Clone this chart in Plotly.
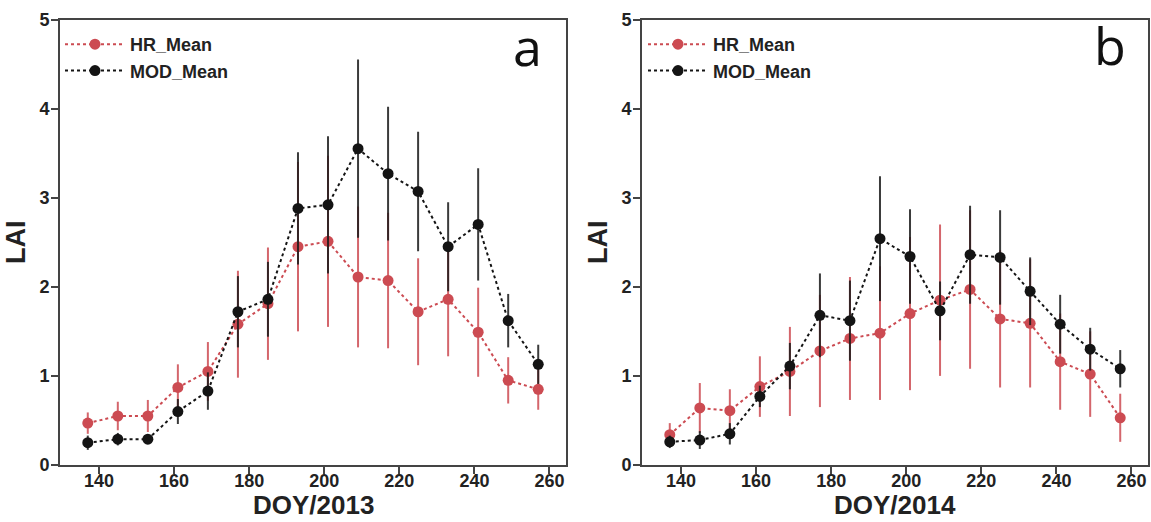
import plotly.graph_objects as go

doy = [137, 145, 153, 161, 169, 177, 185, 193, 201, 209, 217, 225, 233, 241, 249, 257]

hr_2013 = [0.47, 0.55, 0.55, 0.87, 1.05, 1.58, 1.81, 2.45, 2.51, 2.11, 2.07, 1.72, 1.86, 1.49, 0.95, 0.85]
hr_2013_err = [0.12, 0.16, 0.18, 0.26, 0.33, 0.60, 0.63, 0.95, 0.96, 0.79, 0.76, 0.60, 0.64, 0.50, 0.26, 0.23]
mod_2013 = [0.25, 0.29, 0.29, 0.60, 0.83, 1.72, 1.86, 2.88, 2.92, 3.55, 3.27, 3.07, 2.45, 2.70, 1.62, 1.13]
mod_2013_err = [0.08, 0.07, 0.05, 0.14, 0.21, 0.40, 0.42, 0.63, 0.77, 1.00, 0.75, 0.67, 0.50, 0.63, 0.30, 0.22]

hr_2014 = [0.34, 0.64, 0.61, 0.88, 1.05, 1.28, 1.42, 1.48, 1.70, 1.85, 1.97, 1.64, 1.59, 1.16, 1.02, 0.53]
hr_2014_err = [0.13, 0.28, 0.24, 0.34, 0.50, 0.63, 0.69, 0.75, 0.86, 0.85, 0.89, 0.77, 0.72, 0.54, 0.48, 0.27]
mod_2014 = [0.26, 0.28, 0.35, 0.77, 1.11, 1.68, 1.62, 2.54, 2.34, 1.73, 2.36, 2.33, 1.95, 1.58, 1.30, 1.08]
mod_2014_err = [0.07, 0.10, 0.12, 0.12, 0.26, 0.47, 0.45, 0.70, 0.53, 0.33, 0.55, 0.53, 0.38, 0.33, 0.24, 0.21]

x_ticks = [140, 160, 180, 200, 220, 240, 260]
y_ticks = [0, 1, 2, 3, 4, 5]
panel_labels = ["a", "b"]
x_titles = ["DOY/2013", "DOY/2014"]
y_title = "LAI"

RED = "#cc4b52"
BLACK = "#141414"
FONT = "Liberation Sans"
TXT = "#222222"

fig = go.Figure()

panels = [
    (hr_2013, hr_2013_err, mod_2013, mod_2013_err, "x", "y", "legend"),
    (hr_2014, hr_2014_err, mod_2014, mod_2014_err, "x2", "y2", "legend2"),
]
for hr, hre, md, mde, xa, ya, lg in panels:
    fig.add_trace(go.Scatter(
        x=doy, y=hr, name="<b>HR_Mean</b>", mode="lines+markers",
        line=dict(color=RED, width=2, dash="dot"),
        marker=dict(color=RED, size=11),
        error_y=dict(type="data", array=hre, visible=True, color="rgba(204,75,82,0.85)", thickness=2, width=0),
        xaxis=xa, yaxis=ya, legend=lg,
    ))
    fig.add_trace(go.Scatter(
        x=doy, y=md, name="<b>MOD_Mean</b>", mode="lines+markers",
        line=dict(color=BLACK, width=2, dash="dot"),
        marker=dict(color=BLACK, size=11),
        error_y=dict(type="data", array=mde, visible=True, color="rgba(25,25,25,0.85)", thickness=2, width=0),
        xaxis=xa, yaxis=ya, legend=lg,
    ))

axis_common = dict(
    showline=True, linecolor="#444444", linewidth=1.6, mirror=True,
    ticks="outside", ticklen=7, tickwidth=1.5, tickcolor="#444444",
    showgrid=False, zeroline=False, automargin=False,
    tickfont=dict(family=FONT, size=18, color=TXT),
)

x_domains = [[60 / 1151, 566 / 1151], [642 / 1151, 1148 / 1151]]
y_domain = [1 - 465 / 522, 1 - 19.5 / 522]
x_range = [129.6, 264.4]

def xaxis(i):
    return dict(domain=x_domains[i], range=x_range, tickvals=x_ticks,
                ticktext=[f"<b>{v}</b>" for v in x_ticks], anchor="y" if i == 0 else "y2",
                ticklabelstandoff=-8,
                **axis_common)

def yaxis(i):
    return dict(domain=y_domain, range=[0, 5], tickvals=y_ticks,
                ticktext=[f"<b>{v}</b>" for v in y_ticks], anchor="x" if i == 0 else "x2",
                ticklabelstandoff=-2,
                title=dict(text=f"<b>{y_title}</b>", standoff=6,
                           font=dict(family=FONT, size=27, color=TXT)),
                **axis_common)

legend_common = dict(
    xanchor="left", yanchor="top", bgcolor="rgba(0,0,0,0)",
    font=dict(family=FONT, size=18, color=TXT),
    tracegroupgap=0, itemwidth=60,
)

fig.update_layout(
    width=1151, height=522,
    margin=dict(l=0, r=0, t=0, b=0),
    paper_bgcolor="white", plot_bgcolor="white",
    showlegend=True,
    xaxis=xaxis(0), yaxis=yaxis(0),
    xaxis2=xaxis(1), yaxis2=yaxis(1),
    legend=dict(x=60 / 1151, y=1 - 26 / 522, **legend_common),
    legend2=dict(x=643 / 1151, y=1 - 26 / 522, **legend_common),
)

# x-axis titles placed precisely below the tick labels
for i, xr in enumerate(["x", "x2"]):
    fig.add_annotation(text=f"<b>{x_titles[i]}</b>", xref=f"{xr} domain", yref="paper",
                       x=0.5, y=1 - 505 / 522, xanchor="center", yanchor="middle",
                       showarrow=False, font=dict(family=FONT, size=26, color=TXT))

fig.add_annotation(text=panel_labels[0], xref="paper", yref="paper", x=527 / 1151, y=1 - 45 / 522,
                   xanchor="center", yanchor="middle", showarrow=False,
                   font=dict(family="Open Sans", size=52, color="#111111"))
fig.add_annotation(text=panel_labels[1], xref="paper", yref="paper", x=1110 / 1151, y=1 - 44 / 522,
                   xanchor="center", yanchor="middle", showarrow=False,
                   font=dict(family="Open Sans", size=52, color="#111111"))

fig.write_html("out.html")
